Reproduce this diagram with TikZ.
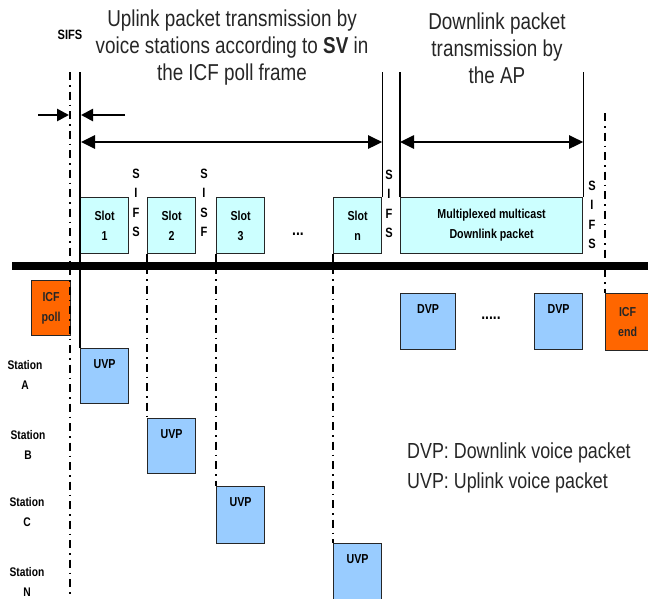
\documentclass[tikz,border=0pt]{standalone}
\usepackage{fontspec}
\setmainfont[FakeStretch=0.82]{Liberation Sans}
\usetikzlibrary{arrows.meta}
\definecolor{slotcyan}{HTML}{CCFFFF}
\definecolor{vpblue}{HTML}{99CCFF}
\definecolor{icforange}{HTML}{FF6600}
\tikzset{
  pbox/.style={draw=black!85, line width=1.2pt, anchor=north west, inner sep=0pt,
    minimum width=48pt, minimum height=56pt, align=center,
    font=\fontsize{13}{20}\selectfont\bfseries},
  slotbox/.style={pbox, fill=slotcyan},
  vpbox/.style={pbox, fill=vpblue},
  icfbox/.style={pbox, fill=icforange, minimum width=44pt, text=black!85},
  vptext/.style={anchor=north, inner sep=0pt, yshift=-11pt, font=\fontsize{13}{15}\selectfont\bfseries},
  sifs/.style={align=center, inner sep=0pt, font=\fontsize{13.5}{19.5}\selectfont\bfseries},
  stn/.style={align=center, inner sep=0pt, font=\fontsize{12.5}{20}\selectfont\bfseries},
  title/.style={align=center, inner sep=0pt, text=black!85, font=\fontsize{23}{27}\selectfont},
  dashdot/.style={line width=1.5pt, dash pattern=on 8pt off 5pt on 1.5pt off 5pt},
  bigarrow/.style={line width=2.6pt, {Triangle[length=14pt,width=13pt]}-{Triangle[length=14pt,width=13pt]}},
  smallarrow/.style={line width=2.6pt, -{Triangle[length=12pt,width=12pt]}}
}
\begin{document}
\begin{tikzpicture}[x=1pt, y=-1pt]
  \useasboundingbox (0,0) rectangle (648,598);
  \clip (0,0) rectangle (648,598);

  \node[title] (uptitle) at (232,48) {Uplink packet transmission by\\voice stations according to \textbf{SV} in\\the ICF poll frame};
  \node[title] (dntitle) at (497,48) {Downlink packet\\transmission by\\the AP};
  \node[stn, font=\fontsize{13.5}{16}\selectfont\bfseries] (sifslbl) at (70,35) {SIFS};

  \node[slotbox] (s1) at (80,197) {Slot\\1};
  \node[slotbox] (s2) at (147,197) {Slot\\2};
  \node[slotbox] (s3) at (216,197) {Slot\\3};
  \node[slotbox] (sn) at (333,197) {Slot\\n};
  \node[slotbox, minimum width=182pt] (mux) at (400,197) {Multiplexed multicast\\Downlink packet};
  \node[sifs, font=\fontsize{17}{19}\selectfont\bfseries] (sdots) at (298,234) {...};

  \node[sifs] (g1) at (136,203) {S\\I\\F\\S};
  \node[sifs] (g2) at (204,203) {S\\I\\S\\F};
  \node[sifs] (g3) at (389,204) {S\\I\\F\\S};
  \node[sifs] (g4) at (592,215) {S\\I\\F\\S};

  \node[icfbox, minimum width=39pt, minimum height=55pt] (poll) at (31,280) {ICF\\poll};
  \node[icfbox, minimum height=57pt] (icfend) at (605,293) {ICF\\end};
  \node[vpbox, minimum width=55pt, label={[vptext]north:DVP}] (d1) at (400,293) {};
  \node[vpbox, minimum width=48pt, label={[vptext]north:DVP}] (d2) at (534,293) {};
  \node[sifs, font=\fontsize{17}{19}\selectfont\bfseries] (ddots) at (491,318) {.....};

  \node[vpbox, minimum height=55pt, label={[vptext]north:UVP}] (uA) at (80,348) {};
  \node[vpbox, minimum height=55pt, label={[vptext]north:UVP}] (uB) at (147,418) {};
  \node[vpbox, minimum height=57pt, label={[vptext]north:UVP}] (uC) at (216,486) {};
  \node[vpbox, minimum height=57pt, label={[vptext]north:UVP}] (uN) at (333,543) {};

  \node[stn] (stA) at (25,375) {Station\\A};
  \node[stn] (stB) at (28,445) {Station\\B};
  \node[stn] (stC) at (27,512) {Station\\C};
  \node[stn] (stN) at (27,582) {Station\\N};

  \node[title, anchor=west, align=left, font=\fontsize{21.8}{30}\selectfont] (key) at (407,468)
    {DVP: Downlink voice packet\\UVP: Uplink voice packet};

  \coordinate (t0) at (70,72);
  \coordinate (b0) at (70,598);
  \coordinate (t1) at (80,72);
  \coordinate (t5) at (605,113);
  \coordinate (busL) at (12,266);
  \coordinate (busR) at (648,266);

  \draw[dashdot] (t0) -- (b0);
  \draw[line width=1.2pt] (t1) -- (uA.north west);
  \draw[line width=1.2pt] (sn.north east |- t1) -- (sn.north east);
  \draw[line width=1.2pt] (mux.north west |- t1) -- (mux.north west);
  \draw[line width=1.2pt] (mux.north east |- t1) -- (mux.north east);
  \draw[dashdot] (t5) -- (icfend.north west);
  \draw[line width=1.2pt] (s2.south west) -- (s2.south west |- busL);
  \draw[line width=1.2pt] (s3.south west) -- (s3.south west |- busL);
  \draw[line width=1.2pt] (sn.south west) -- (sn.south west |- busL);
  \draw[dashdot] (s2.south west |- busL) -- (uB.north west);
  \draw[dashdot] (s3.south west |- busL) -- (uC.north west);
  \draw[dashdot] (sn.south west |- busL) -- (uN.north west);
  \draw[line width=8pt] (busL) -- (busR);

  \coordinate (a1) at (38,115);
  \coordinate (a2) at (125,115);
  \draw[smallarrow] (a1) -- ([xshift=-1pt]t0 |- a1);
  \draw[smallarrow] (a2) -- ([xshift=1pt]t1 |- a2);
  \coordinate (ua) at (81,142);
  \draw[bigarrow] (ua) -- (sn.north east |- ua);
  \draw[bigarrow] (mux.north west |- ua) -- (mux.north east |- ua);
\end{tikzpicture}
\end{document}
